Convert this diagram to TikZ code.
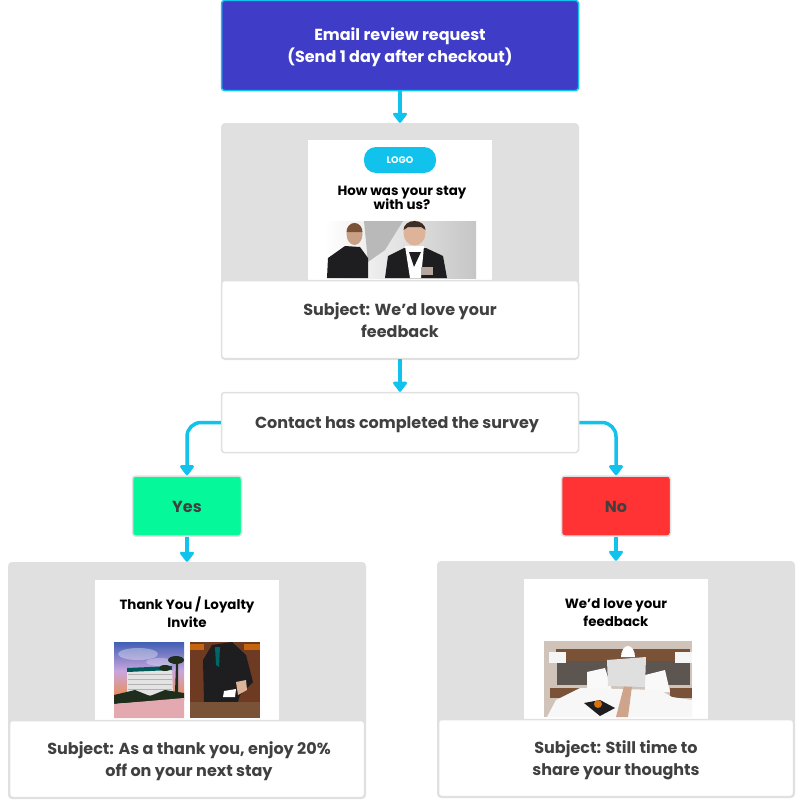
\documentclass[tikz,border=0pt]{standalone}
\usepackage{fontspec}
\setmainfont{Poppins}
\usetikzlibrary{arrows.meta}
\definecolor{flowblue}{HTML}{10C2EC}
\definecolor{topblue}{HTML}{3F3CC7}
\definecolor{cardgray}{HTML}{E0E0E0}
\definecolor{inkgray}{HTML}{404040}
\definecolor{yesgreen}{HTML}{05F99A}
\definecolor{nored}{HTML}{FF3333}
\definecolor{suit}{HTML}{1E1E20}
\definecolor{skin}{HTML}{DDB49A}
\definecolor{wood}{HTML}{7A5238}
\definecolor{padded}{HTML}{5C5550}
\definecolor{sky}{HTML}{3F5FB5}
\definecolor{dusk}{HTML}{C9A6DE}
\definecolor{sand}{HTML}{E3A8B0}
\definecolor{lobby}{HTML}{6E3B22}
\definecolor{palm}{HTML}{1F2E1C}
\newcommand{\liftline}{\rule{0pt}{17pt}}
\tikzset{
	box/.style={draw=cardgray, line width=1.5pt, rounded corners=3pt, fill=white, minimum width=357pt, align=center, text=inkgray, font=\fontsize{16}{22}\selectfont\bfseries, execute at begin node=\rule{0pt}{17pt}, execute at end node=\rule[-4pt]{0pt}{4pt}},
	choice/.style={box, minimum width=109pt, minimum height=60pt},
	card/.style={fill=cardgray, rounded corners=4pt, minimum width=358pt, minimum height=237pt},
	sheet/.style={fill=white, minimum width=184pt, minimum height=140pt},
	headline/.style={align=center, text=black, font=\fontsize{13.4}{14.5}\selectfont\bfseries},
	headlinewide/.style={headline, font=\fontsize{13.4}{18}\selectfont\bfseries},
	flow/.style={color=flowblue, line width=3.5pt, -{Triangle[width=16pt,length=11pt,round]}}
}
\begin{document}
\begin{tikzpicture}[x=1pt,y=-1pt]
	\useasboundingbox (0,0) rectangle (800,800);

	\node[box, draw=flowblue, fill=topblue, text=white, minimum height=90pt] (request) at (400,45.5) {\liftline Email review request\\(Send 1 day after checkout)};

	\node[card] (cardstay) at (400,241.5) {};
	\node[sheet] (sheetstay) at (400,210) {};
	\node[fill=flowblue, rounded corners=12pt, minimum width=72pt, minimum height=26pt, text=white, font=\fontsize{9.5}{10}\selectfont\bfseries] (logo) at (400,160) {LOGO};
	\node[headline] (titlestay) at (402,198) {How was your stay\\with us?};
	\shade[left color=white, right color=gray!45] (325,221) rectangle (476,278);
	\fill[gray!55] (364,221) -- (403,221) -- (385,250) -- (368,262) -- cycle;
	\fill[suit] (327,278) -- (328,258) -- (345,246) -- (360,247) -- (368,258) -- (368,278) -- cycle;
	\fill[skin!80!wood] (354.5,234) ellipse (8pt and 11pt);
	\fill[wood] (346.5,232) arc (180:360:8pt and -9pt) -- cycle;
	\fill[suit] (385,278) -- (388,256) -- (404,248) -- (426,248) -- (443,256) -- (447,278) -- cycle;
	\fill[white] (405,246) -- (424,246) -- (421,278) -- (410,278) -- cycle;
	\fill[suit] (409,252) -- (421,252) -- (414,267) -- cycle;
	\fill[skin] (414.5,233) ellipse (11pt and 12.5pt);
	\fill[suit!70!wood] (403.5,230) arc (180:360:11pt and -9pt) -- (421,227) -- (408,227) -- cycle;
	\fill[cardgray!60!wood] (421,267) rectangle (433,275);
	\node[box, minimum height=78pt] (subjectstay) at (400,319.5) {\liftline Subject: We’d love your\\feedback};

	\node[box, minimum height=60pt] (survey) at (400,422.5) {\mbox{Contact has completed the survey\kern6pt}};
	\node[choice, fill=yesgreen] (yes) at (187,506) {Yes};
	\node[choice, fill=nored] (no) at (616,506) {No};

	\node[card] (cardyes) at (187,680.5) {};
	\node[sheet] (sheetyes) at (187,650) {};
	\node[headlinewide] (titleyes) at (187,612) {Thank You / Loyalty\\Invite};
	\shade[top color=sky, bottom color=orange!70!dusk, middle color=dusk] (114,642) rectangle (184,700);
	\fill[white, opacity=.35] (138,654) ellipse (20pt and 6pt);
	\fill[white, opacity=.3] (160,662) ellipse (14pt and 4pt);
	\fill[gray!22] (127,670) -- (172,668) -- (173,695) -- (127,695) -- cycle;
	\foreach \rowy in {674,679,684,689}
		\draw[gray!60, line width=1pt] (128,\rowy) -- (172,\rowy);
	\fill[teal!70!black] (127,668) -- (172,666) -- (172,670) -- (127,672) -- cycle;
	\fill[palm] (114,695) -- (135,690) -- (150,696) -- (165,690) -- (184,693) -- (184,699) -- (114,704) -- cycle;
	\fill[palm] (175,692) -- (176,664) -- (178,664) -- (178,692) -- cycle;
	\fill[palm] (176,660) ellipse (8pt and 4pt);
	\fill[palm] (165,668) ellipse (6pt and 3pt);
	\fill[sand] (114,704) -- (184,698) -- (184,718) -- (114,718) -- cycle;
	\fill[lobby] (190,642) rectangle (260,718);
	\fill[orange!60!lobby] (190,644) rectangle (204,650);
	\fill[orange!60!lobby] (244,644) rectangle (260,650);
	\fill[suit] (204,702) -- (203,660) -- (212,645) -- (232,642) -- (246,655) -- (253,682) -- (240,695) -- (238,702) -- cycle;
	\fill[teal!80!black] (215,647) -- (220,647) -- (219,667) -- (216,665) -- cycle;
	\fill[skin] (236,682) -- (246,680) -- (247,690) -- (238,695) -- cycle;
	\fill[white] (224,691) -- (236,689) -- (235,697) -- (223,697) -- cycle;
	\fill[wood] (190,702) rectangle (260,718);
	\node[box, minimum width=355pt, minimum height=77pt] (subjectyes) at (187,759) {\liftline\kern4pt Subject: As a thank you, enjoy 20\%\\\kern4pt off on your next stay};

	\node[card] (cardno) at (616,679.5) {};
	\node[sheet] (sheetno) at (616,649) {};
	\node[headlinewide] (titleno) at (616,613) {We’d love your\\feedback};
	\fill[wood!35!white] (544,641) rectangle (692,717);
	\fill[wood] (556,649) rectangle (690,661);
	\fill[padded] (557,661) rectangle (690,685);
	\fill[white!92!gray] (549,652) rectangle (566,663);
	\fill[white!92!gray] (675,652) rectangle (692,663);
	\fill[wood] (550,688) rectangle (580,698);
	\fill[wood] (670,688) rectangle (692,698);
	\fill[white!95!gray] (587,672) -- (605,668) -- (612,690) -- (587,692) -- cycle;
	\fill[white!95!gray] (645,675) -- (665,670) -- (670,692) -- (645,692) -- cycle;
	\fill[white!94!gray] (547,717) -- (556,700) -- (580,688) -- (660,690) -- (672,697) -- (692,700) -- (692,717) -- cycle;
	\fill[white] (621,657) arc (180:360:7pt and -11pt) -- cycle;
	\fill[skin!85!wood] (616,717) -- (624,686) -- (632,686) -- (628,717) -- cycle;
	\fill[gray!25] (607,660) -- (646,657) -- (645,687) -- (608,686) -- cycle;
	\fill[suit] (584,703) -- (600,700) -- (615,708) -- (600,716) -- cycle;
	\fill[orange!70!wood] (598,704) circle (4pt);
	\node[box, minimum width=355pt, minimum height=77pt] (subjectno) at (616,758) {\liftline Subject: Still time to\\share your thoughts};

	\path [flow]
	(request) edge (cardstay)
	(subjectstay) edge (survey)
	(yes) edge (cardyes)
	(no) edge (cardno);

	\draw[flow, rounded corners=14pt] (survey.west) -| (yes.north);
	\draw[flow, rounded corners=14pt] (survey.east) -| (no.north);
\end{tikzpicture}
\end{document}
